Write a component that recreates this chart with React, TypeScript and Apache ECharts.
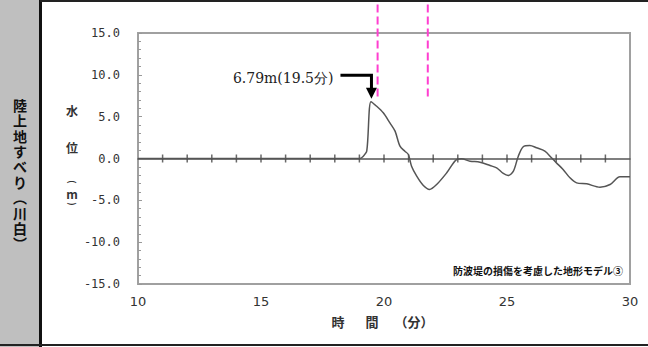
import React, { useEffect, useRef } from 'react';
import * as echarts from 'echarts';

// time (minutes) and water level (m)
const timeMin = [10, 19.0, 19.15, 19.3, 19.47, 19.7, 19.97, 20.24, 20.45, 20.65, 20.85, 20.99, 21.12, 21.33, 21.6, 21.85, 22.14, 22.55, 22.95, 23.15, 23.5, 23.9, 24.31, 24.58, 24.85, 25.05, 25.26, 25.46, 25.66, 25.93, 26.2, 26.54, 26.81, 27.01, 27.28, 27.56, 27.83, 28.24, 28.78, 29.19, 29.59, 30];
const waterLevel = [0, 0, 0.25, 0.9, 6.79, 6.25, 5.46, 4.26, 3.27, 1.47, 0.87, 0.48, -0.92, -2.11, -3.23, -3.7, -3.11, -1.71, -0.12, -0.04, -0.32, -0.44, -0.84, -1.12, -1.79, -2.03, -1.51, 0.28, 1.4, 1.55, 1.28, 0.88, 0.08, -0.52, -1.31, -2.31, -2.91, -3.03, -3.43, -3.11, -2.19, -2.19];

// minute ticks drawn on the zero line
const minuteTicks = [11, 12, 13, 14, 15, 16, 17, 18, 19, 20, 21, 22, 23, 24, 25, 26, 27, 28, 29];

const peakTime = 19.47;
const peakLevel = 6.79;
const peakLabel = '6.79m(19.5分)';

const markTimes = [19.74, 21.78];
const markLevels = [18.4, 7.3];

const panelTitle = ['陸', '上', '地', 'す', 'べ', 'り', '︵', '川', '白', '︶'];
const yTitleChars = ['水', '位', '(', 'm', ')'];
const xTitleParts = ['時', '間', '（分）'];
const caption = '防波堤の損傷を考慮した地形モデル③';

export default function App() {
  const ref = useRef<HTMLDivElement>(null);
  useEffect(() => {
    const chart = echarts.init(ref.current!, null, { renderer: 'svg' });
    const axisCommon = { type: 'value', min: 10, max: 30 };
    chart.setOption({
      animation: false,
      grid: { left: 138, right: 18, top: 33, bottom: 63, show: true, borderColor: '#a0a0a0', borderWidth: 2, backgroundColor: 'transparent' },
      xAxis: [
        {
          ...axisCommon, interval: 5, position: 'bottom',
          axisLine: { show: false, onZero: false }, axisTick: { show: false }, splitLine: { show: false },
          axisLabel: { color: '#333', fontSize: 13, fontFamily: 'DejaVu Sans', margin: 11 },
        },
        {
          ...axisCommon, interval: 1, position: 'bottom',
          axisLine: { show: true, onZero: true, lineStyle: { color: '#555', width: 1.5 } },
          axisTick: { show: false },
          axisLabel: { show: false }, splitLine: { show: false },
        },
      ],
      yAxis: {
        type: 'value', min: -15, max: 15, interval: 5,
        axisLine: { show: true, lineStyle: { color: '#a0a0a0', width: 2 } },
        axisTick: { show: true, inside: true, length: 4, lineStyle: { color: '#999' } },
        minorTick: { show: true, splitNumber: 5, length: 3, lineStyle: { color: '#999' } },
        splitLine: { show: false },
        axisLabel: { color: '#333', fontSize: 12, fontFamily: 'DejaVu Sans Mono', margin: 18, formatter: (v: number) => v.toFixed(1) },
      },
      series: [
        {
          type: 'scatter', xAxisIndex: 0, yAxisIndex: 0, symbol: 'rect', symbolSize: [1.5, 8],
          data: minuteTicks.map((t) => [t, 0]),
          itemStyle: { color: '#444' }, silent: true, z: 2,
        },
        {
          type: 'line', xAxisIndex: 0, yAxisIndex: 0, showSymbol: false, smooth: 0.3,
          data: timeMin.map((t, i) => [t, waterLevel[i]]),
          lineStyle: { color: '#555', width: 1.5 },
          z: 3,
        },
      ],
    });

    const px = (t: number, v: number) => chart.convertToPixel({ xAxisIndex: 0, yAxisIndex: 0 }, [t, v]) as number[];
    const peak = px(peakTime, peakLevel);
    const tipX = peak[0] + 0.5;
    const tipY = peak[1] - 3;
    const g: any[] = [
      { type: 'rect', shape: { x: 0, y: 0, width: 39, height: 347 }, style: { fill: '#bfbfbf' }, silent: true },
      { type: 'rect', shape: { x: 39, y: 0, width: 3, height: 347 }, style: { fill: '#111' }, silent: true },
      { type: 'rect', shape: { x: 40, y: 0, width: 608, height: 2 }, style: { fill: '#222' }, silent: true },
      { type: 'rect', shape: { x: 0, y: 344, width: 648, height: 2 }, style: { fill: '#222' }, silent: true },
      {
        type: 'text', x: 20, y: 174,
        style: { text: panelTitle.join('\n'), fontSize: 14, lineHeight: 15.4, fontWeight: 'bold', fontFamily: 'Noto Sans CJK JP', fill: '#111', align: 'center', verticalAlign: 'middle' },
      },
    ];
    const yTitleY = [110, 147, 182, 193, 204];
    yTitleChars.forEach((c, i) => {
      const paren = c === '(' || c === ')';
      g.push({
        type: 'text', x: 72, y: yTitleY[i], rotation: paren ? -Math.PI / 2 : 0,
        style: { text: c, fontSize: paren ? 9 : 12, fontFamily: 'Noto Sans CJK JP', fontWeight: 'bold', fill: '#333', align: 'center', verticalAlign: 'middle' },
      });
    });
    const xTitleX = [338, 372, 414];
    xTitleParts.forEach((c, i) => {
      g.push({
        type: 'text', x: xTitleX[i], y: 321,
        style: { text: c, fontSize: 13, fontFamily: 'Noto Sans CJK JP', fontWeight: 'bold', fill: '#333', align: 'center', verticalAlign: 'middle' },
      });
    });
    g.push({
      type: 'text', x: 623, y: 270,
      style: { text: caption, fontSize: 10, fontFamily: 'Noto Sans CJK JP', fontWeight: 'bold', fill: '#111', align: 'right', verticalAlign: 'middle' },
    });
    markTimes.forEach((t) => {
      const a = px(t, markLevels[0]);
      const b = px(t, markLevels[1]);
      g.push({ type: 'line', shape: { x1: a[0], y1: a[1], x2: b[0], y2: b[1] }, style: { stroke: '#ff3fd0', lineWidth: 2, lineDash: [8, 4] }, silent: true });
    });
    // annotation arrow
    g.push({ type: 'polyline', shape: { points: [[tipX - 31, tipY - 23.5], [tipX, tipY - 23.5], [tipX, tipY - 10]] }, style: { stroke: '#000', lineWidth: 3, fill: 'none' }, silent: true });
    g.push({ type: 'polygon', shape: { points: [[tipX - 5.5, tipY - 11], [tipX + 5.5, tipY - 11], [tipX, tipY]] }, style: { fill: '#000' }, silent: true });
    g.push({
      type: 'text', x: tipX - 38, y: tipY - 21,
      style: { text: peakLabel, fontSize: 14, fontFamily: 'DejaVu Serif', fill: '#222', align: 'right', verticalAlign: 'middle' },
    });
    chart.setOption({ graphic: g });
    return () => chart.dispose();
  }, []);
  return <div ref={ref} style={{ position: 'absolute', left: 0, top: 0, width: 648, height: 347, background: '#fff' }} />;
}
